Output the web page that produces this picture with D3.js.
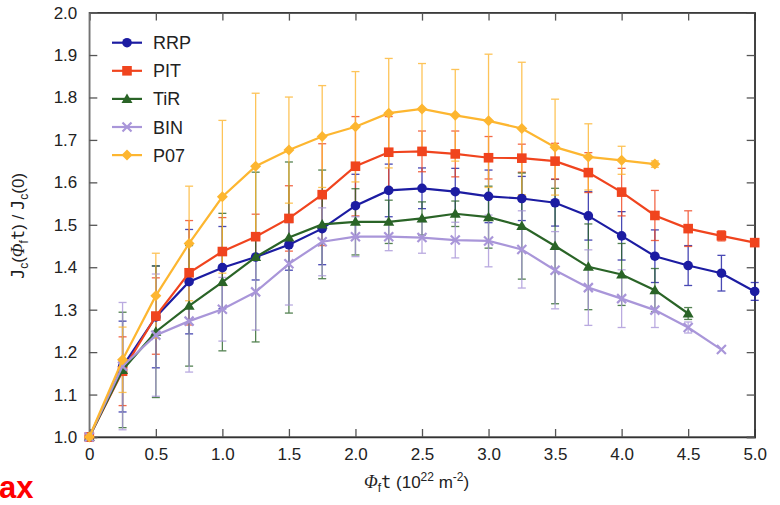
<!DOCTYPE html>
<html><head><meta charset="utf-8">
<script src="https://cdn.jsdelivr.net/npm/d3@7/dist/d3.min.js"></script>
<style>
body{margin:0;background:#fff;}
svg{display:block;font-family:"Liberation Sans",Arial,sans-serif;}
</style></head>
<body>
<svg id="chart" width="780" height="505"></svg>
<script>
const fluence = [0,0.25,0.5,0.75,1.0,1.25,1.5,1.75,2.0,2.25,2.5,2.75,3.0,3.25,3.5,3.75,4.0,4.25,4.5,4.75,5.0];
const seriesNames = ["RRP","PIT","TiR","BIN","P07"];
const rrpValues = [1.0,1.166,1.283,1.366,1.399,1.424,1.453,1.491,1.545,1.581,1.586,1.578,1.567,1.562,1.552,1.521,1.474,1.426,1.404,1.386,1.343];
const rrpErrors = [0,0.107,0.12,0.123,0.097,0.054,0.06,0.085,0.074,0.062,0.048,0.055,0.062,0.052,0.055,0.057,0.057,0.062,0.047,0.042,0.021];
const pitValues = [1.0,1.155,1.285,1.387,1.437,1.472,1.515,1.571,1.638,1.671,1.673,1.667,1.658,1.657,1.650,1.623,1.577,1.522,1.491,1.474,1.458];
const pitErrors = [0,0.081,0.09,0.123,0.08,0.053,0.077,0.12,0.117,0.084,0.048,0.054,0.05,0.033,0.042,0.047,0.056,0.059,0.042,0.012,0];
const tirValues = [1.0,1.158,1.248,1.309,1.365,1.424,1.470,1.501,1.507,1.507,1.515,1.526,1.518,1.497,1.450,1.401,1.383,1.346,1.291];
const tirErrors = [0,0.136,0.155,0.142,0.162,0.2,0.178,0.128,0.078,0.051,0.039,0.03,0.073,0.125,0.136,0.101,0.073,0.051,0.014];
const binValues = [1.0,1.167,1.240,1.273,1.301,1.342,1.408,1.460,1.472,1.472,1.470,1.464,1.462,1.442,1.393,1.352,1.326,1.299,1.258,1.206];
const binErrors = [0,0.150,0.144,0.12,0.075,0.09,0.097,0.08,0.047,0.033,0.037,0.042,0.061,0.091,0.091,0.089,0.068,0.041,0.013,0];
const p07Values = [1.0,1.182,1.333,1.456,1.566,1.638,1.676,1.708,1.731,1.763,1.773,1.758,1.745,1.727,1.683,1.660,1.652,1.643];
const p07Errors = [0,0.077,0.10,0.135,0.18,0.172,0.125,0.12,0.13,0.129,0.107,0.108,0.157,0.156,0.113,0.078,0.033,0.0075];
const xTickValues = [0,0.5,1.0,1.5,2.0,2.5,3.0,3.5,4.0,4.5,5.0];
const xTickLabels = ["0","0.5","1.0","1.5","2.0","2.5","3.0","3.5","4.0","4.5","5.0"];
const yTickValues = [1.0,1.1,1.2,1.3,1.4,1.5,1.6,1.7,1.8,1.9,2.0];
const yTickLabels = ["1.0","1.1","1.2","1.3","1.4","1.5","1.6","1.7","1.8","1.9","2.0"];

const colors = {RRP:"#1c1ca2", PIT:"#f0441e", TiR:"#2a6427", BIN:"#a996d9", P07:"#fdb630"};
const shapes = {RRP:"circle", PIT:"square", TiR:"triangle", BIN:"cross", P07:"diamond"};
const valuesByName = {RRP:rrpValues, PIT:pitValues, TiR:tirValues, BIN:binValues, P07:p07Values};
const errorsByName = {RRP:rrpErrors, PIT:pitErrors, TiR:tirErrors, BIN:binErrors, P07:p07Errors};

const series = seriesNames.map(n => ({
  name:n, color:colors[n], shape:shapes[n],
  points: valuesByName[n].map((v,i)=>({x:fluence[i], y:v, e:errorsByName[n][i]}))
}));

const svg = d3.select("#chart");
const L=89.3, R=754.7, T=12.6, B=437;
const x = d3.scaleLinear().domain([0,5]).range([L,R]);
const y = d3.scaleLinear().domain([1,2]).range([B,T]);

// frame
svg.append("rect").attr("x",L).attr("y",T).attr("width",R-L).attr("height",B-T)
  .attr("fill","none").attr("stroke","#444").attr("stroke-width",1.2);

// axes
const xa = svg.append("g").attr("transform",`translate(0,${B})`)
  .call(d3.axisBottom(x).tickValues(xTickValues).tickFormat((d,i)=>xTickLabels[i]).tickSize(-8).tickPadding(11));
const xt = svg.append("g").attr("transform",`translate(0,${T})`)
  .call(d3.axisTop(x).tickValues(xTickValues).tickFormat("").tickSize(-8));
const ya = svg.append("g").attr("transform",`translate(${L},0)`)
  .call(d3.axisLeft(y).tickValues(yTickValues).tickFormat((d,i)=>yTickLabels[i]).tickSize(-8).tickPadding(12));
const yr = svg.append("g").attr("transform",`translate(${R},0)`)
  .call(d3.axisRight(y).tickValues(yTickValues).tickFormat("").tickSize(-8));
[xa,xt,ya,yr].forEach(g=>{
  g.select(".domain").attr("stroke","#333").attr("stroke-width",1.4);
  g.selectAll(".tick line").attr("stroke","#555").attr("stroke-width",1.3);
  g.selectAll(".tick text").attr("fill","#222").style("font-size","17px").style("font-family","'Liberation Sans',Arial,sans-serif");
});
ya.select(".domain").attr("stroke","#777");

// error bars
const cap = 4;
series.forEach(s=>{
  const g = svg.append("g").attr("stroke",s.color).attr("stroke-width",1.3).attr("opacity",0.8);
  s.points.filter(p=>p.e>0).forEach(p=>{
    const cx=x(p.x), y1=y(p.y+p.e), y2=y(p.y-p.e);
    g.append("line").attr("x1",cx).attr("x2",cx).attr("y1",y1).attr("y2",y2);
    g.append("line").attr("x1",cx-cap).attr("x2",cx+cap).attr("y1",y1).attr("y2",y1);
    g.append("line").attr("x1",cx-cap).attr("x2",cx+cap).attr("y1",y2).attr("y2",y2);
  });
});

function drawMarker(g, shape, color, cx, cy){
  if(shape==="circle") g.append("circle").attr("cx",cx).attr("cy",cy).attr("r",4.8).attr("fill",color);
  else if(shape==="square") g.append("rect").attr("x",cx-4.8).attr("y",cy-4.8).attr("width",9.6).attr("height",9.6).attr("fill",color);
  else if(shape==="triangle") g.append("path").attr("d",`M${cx},${cy-5.5}L${cx+5.5},${cy+4}L${cx-5.5},${cy+4}Z`).attr("fill",color);
  else if(shape==="diamond") g.append("path").attr("d",`M${cx},${cy-5.5}L${cx+5.5},${cy}L${cx},${cy+5.5}L${cx-5.5},${cy}Z`).attr("fill",color);
  else if(shape==="cross") g.append("path").attr("d",`M${cx-4.5},${cy-4.5}L${cx+4.5},${cy+4.5}M${cx-4.5},${cy+4.5}L${cx+4.5},${cy-4.5}`).attr("stroke",color).attr("stroke-width",2.2).attr("fill","none");
}

const line = d3.line().x(d=>x(d.x)).y(d=>y(d.y));
series.forEach(s=>{
  const g = svg.append("g");
  g.append("path").datum(s.points).attr("d",line).attr("fill","none").attr("stroke",s.color).attr("stroke-width",2.2);
  s.points.forEach(p=>drawMarker(g,s.shape,s.color,x(p.x),y(p.y)));
});

// legend
const lg = svg.append("g");
series.forEach((s,i)=>{
  const ly = 42.7 + i*28.1;
  lg.append("line").attr("x1",112).attr("x2",142).attr("y1",ly).attr("y2",ly).attr("stroke",s.color).attr("stroke-width",2.2);
  drawMarker(lg,s.shape,s.color,127,ly);
  lg.append("text").attr("x",153).attr("y",ly+6.5).text(s.name).attr("fill","#222").style("font-size","18px");
});

// axis titles
const xl = svg.append("text").attr("x",364).attr("y",488).attr("fill","#222").style("font-size","17px");
xl.append("tspan").text("Φ").style("font-style","italic").style("font-family","'Liberation Serif',serif").style("font-size","18px");
xl.append("tspan").text("f").attr("dy",4).style("font-size","12px");
xl.append("tspan").text("t").attr("dy",-4).style("font-family","'DejaVu Sans Mono',monospace");
xl.append("tspan").text(" (10");
xl.append("tspan").text("22").attr("dy",-7).style("font-size","12px");
xl.append("tspan").text(" m").attr("dy",7);
xl.append("tspan").text("-2").attr("dy",-7).style("font-size","12px");
xl.append("tspan").text(")").attr("dy",7);

const yl = svg.append("text").attr("transform","translate(24,226) rotate(-90)").attr("text-anchor","middle").attr("fill","#222").style("font-size","17px");
yl.append("tspan").text("J").style("font-family","'DejaVu Sans Mono',monospace");
yl.append("tspan").text("c").attr("dy",4).style("font-size","12px");
yl.append("tspan").text("(").attr("dy",-4);
yl.append("tspan").text("Φ").style("font-style","italic").style("font-family","'Liberation Serif',serif").style("font-size","18px");
yl.append("tspan").text("f").attr("dy",4).style("font-size","12px");
yl.append("tspan").text("t").attr("dy",-4).style("font-family","'DejaVu Sans Mono',monospace");
yl.append("tspan").text(") / ");
yl.append("tspan").text("J").style("font-family","'DejaVu Sans Mono',monospace");
yl.append("tspan").text("c").attr("dy",4).style("font-size","12px");
yl.append("tspan").text("(0)").attr("dy",-4);

// cropped red label
svg.append("text").attr("x",-1).attr("y",498).text("ax").attr("fill","#ff0000")
  .style("font-weight","bold").style("font-size","31px").style("font-family","'Liberation Sans',Arial,sans-serif");
</script>
</body></html>
